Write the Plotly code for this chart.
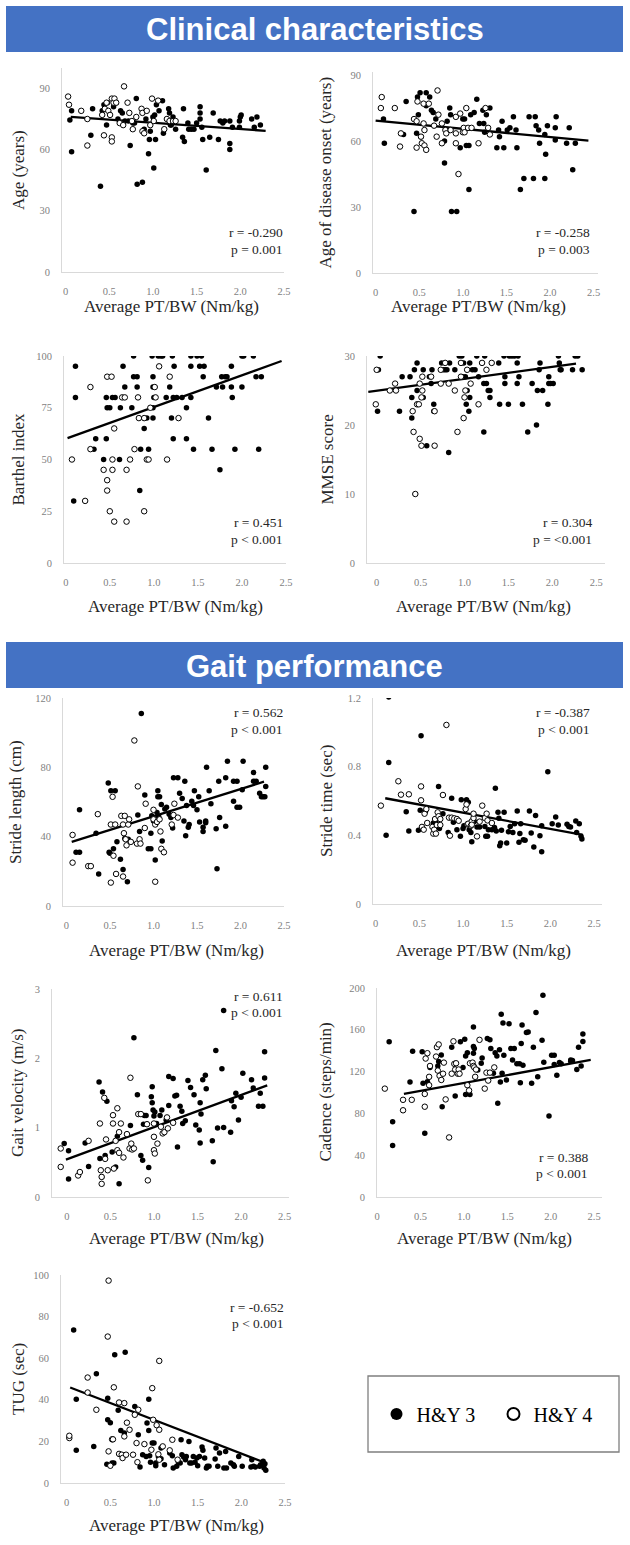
import plotly.graph_objects as go

# ---------------- DATA ----------------
X_TICKS = [0, 0.5, 1.0, 1.5, 2.0, 2.5]
X_TICK_TEXT = ["0", "0.5", "1.0", "1.5", "2.0", "2.5"]
X_TITLE = "Average PT/BW (Nm/kg)"
LEGEND_NAMES = ["H&Y 3", "H&Y 4"]

AGE_HY3 = [(0.05,74.5),(0.07,79),(0.07,59),(0.29,67),(0.31,80),(0.40,42),(0.42,79),(0.44,82),(0.47,72),(0.48,83),
           (0.55,81),(0.58,83),(0.60,75),(0.63,79),(0.65,78),(0.68,74),(0.72,74),(0.74,62),(0.77,73),(0.79,73),
           (0.81,85),(0.82,43),(0.88,44),(0.90,70),(0.92,75),(0.95,58),(0.96,65),(0.97,69),(1.00,76),(1.01,51),
           (1.02,77),(1.03,65),(1.04,82),(1.07,79),(1.11,84),(1.12,68),(1.18,80),(1.19,78),(1.20,72),(1.21,72),
           (1.23,76),(1.26,70),(1.35,80),(1.34,66),(1.36,64),(1.40,73),(1.41,70),(1.44,70),(1.47,70),(1.50,73),
           (1.54,81),(1.54,78),(1.54,75),(1.56,71),(1.57,65),(1.61,50),(1.65,66),(1.69,78),(1.75,65),(1.77,74),
           (1.80,73),(1.82,74),(1.88,74),(1.88,63),(1.88,60),(1.91,71),(1.99,71),(2.00,76),(2.01,77),(1.99,74),
           (2.13,75),(2.16,71),(2.19,76),(2.23,72)]
AGE_HY4 = [(0.03,86),(0.04,82),(0.18,79),(0.25,75),(0.25,62),(0.42,77),(0.44,67),(0.45,80),(0.47,83),(0.49,79),
           (0.51,77),(0.53,66),(0.53,64),(0.53,85),(0.55,83),(0.56,85),(0.58,83),(0.62,73),(0.66,72),(0.67,91),
           (0.71,83),(0.73,78),(0.76,74),(0.77,70),(0.81,76),(0.87,80),(0.88,78),(0.88,69),(0.90,68),(0.93,79),
           (0.97,72),(0.99,85),(1.01,74),(1.06,84),(1.13,70),(1.16,75),(1.19,74),(1.23,74),(1.26,74)]
AGE_TREND = [(0.06,76.0),(2.29,69.2)]

ONSET_HY3 = [(0.09,70),(0.10,59),(0.32,63),(0.35,78),(0.44,28),(0.47,63.5),(0.48,80),(0.49,72),(0.51,82),(0.52,62),
             (0.58,82),(0.58,76),(0.62,80),(0.64,74),(0.66,73),(0.69,70),(0.79,60),(0.79,50),(0.82,69),(0.85,75),
             (0.86,72),(0.87,28),(0.93,28),(0.97,57),(1.00,70),(1.02,70),(1.04,58),(1.07,38),(1.07,58),(1.09,72),
             (1.13,73),(1.16,79),(1.19,68),(1.23,74),(1.24,68),(1.25,64),(1.27,72),(1.31,75),(1.39,57),(1.41,65),
             (1.42,62),(1.45,69),(1.47,57),(1.51,65),(1.54,66),(1.58,71),(1.61,65),(1.62,57),(1.66,38),(1.70,43),
             (1.76,71),(1.81,43),(1.83,71),(1.84,67),(1.87,65),(1.88,59),(1.94,63),(1.94,43),(1.95,54),(1.97,67),
             (2.06,66),(2.07,71),(2.06,60.5),(2.19,59),(2.22,66),(2.26,47),(2.29,59)]
ONSET_HY4 = [(0.07,80),(0.06,75),(0.22,75),(0.29,63.5),(0.28,57.5),(0.44,70),(0.47,69),(0.48,78),(0.52,62),(0.47,57),
             (0.53,59),(0.55,77),(0.55,68),(0.56,65),(0.56,58),(0.58,56),(0.61,77),(0.67,67),(0.70,62),(0.71,83),
             (0.72,72),(0.76,68),(0.76,59),(0.80,65),(0.81,63.5),(0.86,65),(0.92,71),(0.92,63.5),(0.92,59),(0.95,45),
             (0.97,72.5),(1.00,64),(1.01,66),(1.02,64),(1.04,75),(1.06,66),(1.10,66),(1.18,59),(1.26,75),(1.29,66),
             (1.31,63)]
ONSET_TREND = [(0.0,69.3),(2.44,60.2)]

BARTHEL_HY3 = [(0.09,30),(0.11,95),(0.11,80),(0.32,55),(0.34,60),(0.43,50),(0.46,60),(0.46,80),(0.47,75),(0.50,75),
               (0.53,80),(0.56,80),(0.61,50),(0.62,75),(0.65,95),(0.67,85),(0.75,75),(0.77,100),(0.77,90),(0.81,85),
               (0.81,90),(0.85,55),(0.84,35),(0.89,65),(0.92,70),(0.94,55),(0.98,100),(0.99,90),(0.99,85),(0.99,70),
               (0.99,75),(1.00,80),(1.05,100),(1.08,100),(1.10,100),(1.14,80),(1.18,85),(1.20,70),(1.21,100),(1.22,60),
               (1.23,95),(1.22,80),(1.26,80),(1.32,80),(1.37,75),(1.37,60),(1.42,100),(1.42,95),(1.42,80),(1.45,55),
               (1.49,100),(1.52,95),(1.54,100),(1.56,90),(1.57,95),(1.62,70),(1.66,55),(1.71,85),(1.75,45),(1.77,90),
               (1.78,85),(1.81,90),(1.83,90),(1.88,95),(1.88,85),(1.89,80),(1.92,55),(2.00,100),(2.02,100),(2.00,85),
               (2.13,100),(2.16,90),(2.22,90),(2.19,55)]
BARTHEL_HY4 = [(0.07,50),(0.22,30),(0.28,85),(0.28,55),(0.47,90),(0.52,90),(0.43,45),(0.47,40),(0.47,35),(0.50,25),
               (0.53,50),(0.53,45),(0.55,65),(0.55,20),(0.64,80),(0.67,80),(0.69,45),(0.69,20),(0.73,50),(0.78,55),
               (0.82,80),(0.83,70),(0.92,50),(0.94,50),(0.89,70),(0.89,25),(0.96,75),(1.01,85),(1.02,80),(1.06,95),
               (1.15,50),(1.18,90),(1.28,70)]
BARTHEL_TREND = [(0.02,60.3),(2.45,97.6)]

MMSE_HY3 = [(0.01,22),(0.02,28),(0.04,30),(0.26,22),(0.29,27),(0.38,27),(0.40,24),(0.40,21),(0.43,28),(0.46,29),
            (0.46,25),(0.53,28),(0.53,24),(0.57,17),(0.60,27),(0.62,26),(0.63,28),(0.65,23),(0.65,22),(0.74,29),
            (0.76,28),(0.78,28),(0.80,28),(0.82,16),(0.83,29),(0.89,28),(0.94,30),(0.97,30),(0.98,27),(0.99,29),
            (1.01,27),(1.02,23),(1.03,25),(1.05,22),(1.06,24),(1.06,29),(1.09,28),(1.12,28),(1.14,30),(1.16,27),
            (1.22,26),(1.22,19),(1.23,30),(1.25,26),(1.27,25),(1.29,25),(1.29,24),(1.39,29),(1.40,23),(1.45,30),
            (1.46,26),(1.46,27),(1.50,23),(1.51,30),(1.54,30),(1.57,30),(1.60,29),(1.61,30),(1.60,26),(1.62,27),
            (1.66,23),(1.72,19),(1.77,26),(1.82,20),(1.83,25),(1.85,28),(1.86,29),(1.89,25),(1.95,23),(1.96,27),
            (1.96,26),(1.98,26),(2.01,26),(2.07,30),(2.08,29),(2.09,28),(2.10,28),(2.23,28),(2.26,30),(2.29,30),
            (2.34,28)]
MMSE_HY4 = [(-0.01,23),(0.0,28),(0.15,25),(0.21,26),(0.22,25),(0.41,22),(0.42,19),(0.44,10),(0.46,23),(0.48,23),
            (0.49,18),(0.51,24),(0.51,17),(0.52,25),(0.52,27),(0.49,26),(0.62,27),(0.66,22),(0.66,17),(0.73,28),
            (0.73,26),(0.78,29),(0.82,26),(0.89,25),(0.92,19),(0.96,29),(0.96,27),(0.99,21),(1.00,24),(1.01,25),
            (1.03,28),(1.07,26),(1.16,23),(1.20,29),(1.25,28),(1.31,29)]
MMSE_TREND = [(-0.095,24.8),(2.27,28.9)]

SLEN_HY3 = [(0.11,31),(0.15,31),(0.15,55.5),(0.34,42),(0.37,18.5),(0.48,71),(0.49,31),(0.50,30.5),(0.51,66.5),(0.54,33),
            (0.56,66.5),(0.58,37),(0.62,27),(0.65,21),(0.67,39),(0.70,14),(0.71,38.5),(0.82,52.5),(0.84,43),(0.86,111),
            (0.90,64),(0.94,33),(0.97,33),(0.97,42),(0.98,52),(1.00,49),(1.02,26.5),(1.04,54),(1.05,66.5),(1.05,63),
            (1.06,51.5),(1.07,63),(1.09,58.5),(1.10,37.5),(1.13,56),(1.15,57),(1.18,53),(1.20,51),(1.22,45),(1.23,74),
            (1.28,74),(1.30,65),(1.33,62),(1.35,49),(1.36,72),(1.37,40.5),(1.38,58),(1.40,45.5),(1.41,47),(1.44,60.5),
            (1.46,58),(1.47,66.5),(1.50,55.5),(1.52,63),(1.53,48.5),(1.57,45.5),(1.57,43),(1.60,49),(1.60,48),(1.61,80),
            (1.64,66.5),(1.66,59),(1.72,44.5),(1.73,21.5),(1.75,72),(1.76,51),(1.83,74),(1.83,46),(1.85,83.5),(1.92,72),
            (1.92,60.5),(1.96,72),(1.96,57),(1.99,57),(2.02,67),(2.03,83.5),(2.15,77),(2.15,72),(2.18,72),(2.22,65),
            (2.24,63),(2.26,63),(2.29,80),(2.29,69),(2.28,63)]
SLEN_HY4 = [(0.07,41),(0.07,25),(0.25,23),(0.28,23),(0.36,53),(0.51,47),(0.51,13.5),(0.53,63),(0.54,29),(0.56,47),
            (0.57,18.5),(0.63,52),(0.65,47),(0.65,17),(0.66,42),(0.67,52),(0.68,38.5),(0.69,35),(0.71,47),(0.72,50),
            (0.74,37),(0.78,95.5),(0.81,36),(0.82,69),(0.84,38.5),(0.85,36),(0.90,45),(0.91,59),(1.00,55.5),(1.00,50),
            (1.02,14),(1.02,47),(1.04,48.5),(1.07,50),(1.08,43),(1.09,33),(1.12,31),(1.21,47),(1.23,52.5),(1.24,59),
            (1.28,51)]
SLEN_TREND = [(0.06,37.0),(2.27,71.7)]

STIME_HY3 = [(0.12,0.40),(0.15,1.206),(0.15,0.825),(0.35,0.538),(0.38,0.425),(0.49,0.429),(0.52,0.98),(0.51,0.546),(0.57,0.538),(0.66,0.472),
             (0.69,0.476),(0.72,0.685),(0.73,0.44),(0.77,0.526),(0.83,0.417),(0.87,0.616),(0.89,0.476),(0.93,0.433),(0.97,0.394),(0.98,0.608),
             (1.00,0.44),(1.01,0.456),(1.04,0.608),(1.06,0.592),(1.07,0.433),(1.09,0.417),(1.10,0.363),(1.13,0.48),(1.16,0.449),(1.19,0.449),
             (1.25,0.452),(1.26,0.394),(1.28,0.394),(1.29,0.433),(1.33,0.433),(1.36,0.445),(1.37,0.674),(1.38,0.425),(1.40,0.534),(1.41,0.499),
             (1.42,0.34),(1.43,0.355),(1.44,0.429),(1.47,0.534),(1.50,0.355),(1.52,0.421),(1.54,0.452),(1.57,0.417),(1.59,0.468),(1.62,0.542),
             (1.64,0.359),(1.65,0.41),(1.66,0.468),(1.69,0.375),(1.71,0.371),(1.76,0.542),(1.78,0.413),(1.81,0.332),(1.83,0.515),(1.88,0.398),
             (1.90,0.456),(1.90,0.305),(1.97,0.771),(2.02,0.468),(2.06,0.507),(2.09,0.46),(2.19,0.464),(2.21,0.452),(2.23,0.449),(2.29,0.483),
             (2.30,0.417),(2.33,0.468),(2.35,0.394),(2.36,0.379)]
STIME_HY4 = [(0.06,0.573),(0.26,0.715),(0.29,0.637),(0.38,0.639),(0.52,0.604),(0.52,0.685),(0.53,0.449),(0.55,0.433),(0.56,0.526),(0.58,0.553),
             (0.59,0.472),(0.65,0.449),(0.66,0.41),(0.67,0.433),(0.68,0.495),(0.69,0.41),(0.70,0.46),(0.71,0.534),(0.72,0.511),(0.74,0.495),
             (0.74,0.46),(0.77,0.635),(0.81,1.043),(0.84,0.503),(0.85,0.398),(0.87,0.503),(0.90,0.499),(0.93,0.495),(0.95,0.485),(1.03,0.553),
             (1.04,0.58),(1.05,0.464),(1.06,0.468),(1.09,0.456),(1.10,0.482),(1.10,0.462),(1.12,0.501),(1.12,0.526),(1.16,0.394),(1.19,0.48),
             (1.22,0.573),(1.25,0.501),(1.27,0.526),(1.28,0.487),(1.33,0.472)]
STIME_TREND = [(0.11,0.616),(2.37,0.402)]

GVEL_HY3 = [(-0.03,0.77),(0.02,0.666),(0.02,0.26),(0.21,0.78),(0.25,0.44),(0.37,1.66),(0.38,0.555),(0.40,0.29),(0.41,1.515),(0.44,0.598),
            (0.46,1.38),(0.52,0.65),(0.56,0.434),(0.58,0.878),(0.60,0.19),(0.73,1.03),(0.77,2.296),(0.81,1.476),(0.85,0.598),(0.87,0.53),
            (0.88,1.05),(0.89,1.177),(0.91,1.177),(0.94,0.425),(0.97,1.447),(0.98,1.59),(0.98,1.36),(0.99,1.254),(1.00,1.167),(1.01,1.225),
            (1.03,1.06),(1.07,1.177),(1.09,1.254),(1.14,1.11),(1.17,1.737),(1.17,1.32),(1.22,1.71),(1.24,1.457),(1.26,1.467),(1.27,0.72),
            (1.30,1.31),(1.32,1.235),(1.33,1.06),(1.36,1.10),(1.39,1.68),(1.42,1.58),(1.46,1.476),(1.48,1.04),(1.52,0.965),(1.53,0.78),
            (1.53,1.36),(1.54,1.196),(1.56,1.69),(1.59,1.756),(1.60,1.563),(1.67,0.81),(1.68,0.51),(1.71,2.113),(1.73,0.994),(1.78,1.85),
            (1.80,2.69),(1.80,1.003),(1.88,0.935),(1.89,1.39),(1.92,1.30),(1.94,1.495),(1.97,1.11),(2.00,1.437),(2.02,1.785),(2.12,1.69),
            (2.14,1.573),(2.20,1.31),(2.22,1.495),(2.25,1.31),(2.27,1.717),(2.27,2.094)]
GVEL_HY4 = [(-0.07,0.434),(-0.07,0.70),(0.13,0.31),(0.15,0.36),(0.25,0.81),(0.38,1.06),(0.39,0.386),(0.40,0.29),(0.40,0.19),(0.43,1.43),
            (0.44,0.55),(0.45,0.83),(0.47,0.386),(0.53,1.18),(0.53,1.06),(0.54,0.41),(0.56,0.81),(0.58,1.28),(0.58,0.675),(0.60,0.935),
            (0.60,0.637),(0.62,1.06),(0.65,0.57),(0.69,0.907),(0.72,0.70),(0.73,1.72),(0.74,0.77),(0.75,0.685),(0.77,0.70),(0.82,1.196),
            (0.85,1.196),(0.92,1.05),(0.93,0.24),(1.00,1.06),(1.00,0.868),(1.00,0.675),(1.01,0.627),(1.04,0.77),(1.08,1.013),(1.10,0.917),
            (1.12,0.935),(1.15,1.148),(1.16,0.99),(1.22,1.07)]
GVEL_TREND = [(-0.01,0.54),(2.30,1.61)]

CAD_HY3 = [(0.14,148.5),(0.18,72),(0.18,49.3),(0.38,110),(0.41,139.5),(0.52,139),(0.53,108.8),(0.55,61),(0.58,110.4),(0.61,124),
           (0.70,125.4),(0.71,129.6),(0.74,136),(0.75,86.4),(0.86,143.4),(0.90,96.6),(0.96,148.5),(0.99,124),(1.01,151),(1.02,98),
           (1.02,135),(1.04,138),(1.07,98),(1.11,144),(1.11,137.6),(1.11,162.6),(1.12,142),(1.16,121.6),(1.20,128),(1.21,133),
           (1.27,151.7),(1.30,150.4),(1.31,142),(1.34,118.4),(1.36,138),(1.38,135),(1.39,89.6),(1.41,141),(1.42,110),(1.43,175),
           (1.44,118.4),(1.45,166.4),(1.46,135.7),(1.49,112),(1.52,165.8),(1.54,142),(1.56,131),(1.58,142),(1.61,127.4),(1.64,127.4),
           (1.65,109.4),(1.66,147),(1.67,164.5),(1.68,126),(1.72,157.4),(1.74,158),(1.78,108.8),(1.80,143.4),(1.83,176.6),(1.85,115),
           (1.90,150),(1.91,193),(1.92,129),(1.98,77.4),(2.01,135.7),(2.04,135.7),(2.04,126.7),(2.07,116.5),(2.10,128.6),(2.12,127.4),
           (2.23,131),(2.23,130),(2.25,130.6),(2.30,122),(2.32,143.4),(2.35,125.4),(2.37,156),(2.37,148.8)]
CAD_HY4 = [(0.09,103.7),(0.30,83),(0.30,93),(0.40,93),(0.55,98.6),(0.55,86.4),(0.56,132.5),(0.58,137.6),(0.60,115),(0.60,107),
           (0.61,125.4),(0.68,134.4),(0.69,143.4),(0.70,121),(0.71,146),(0.72,116),(0.74,112),(0.76,118),(0.77,128.6),(0.79,93.4),
           (0.83,57),(0.86,118),(0.88,149),(0.89,127.4),(0.90,122),(0.91,128),(0.93,118),(0.94,122),(0.95,118),(1.04,107),
           (1.06,102),(1.07,128),(1.10,128.6),(1.11,125.4),(1.12,124),(1.13,115),(1.14,122),(1.18,150.4),(1.24,103.7),(1.26,119),
           (1.28,111.4),(1.30,119),(1.35,124)]
CAD_TREND = [(0.31,98.6),(2.46,131.2)]

TUG_HY3 = [(0.08,73.6),(0.11,40.3),(0.11,15.7),(0.31,17.6),(0.34,52.5),(0.46,9),(0.47,30.4),(0.47,40.8),(0.50,29),(0.52,9.6),
           (0.54,9.6),(0.55,61.6),(0.59,35),(0.62,25.3),(0.66,24),(0.67,62.9),(0.78,36.8),(0.82,23.2),(0.84,7.7),(0.87,13.6),
           (0.91,12.8),(0.92,28.8),(0.94,40.3),(0.94,25.3),(0.95,13.1),(0.96,10),(0.98,19.2),(1.00,19.2),(1.02,9.6),(1.02,8.3),
           (1.05,12.8),(1.08,16.8),(1.08,11.7),(1.12,8.8),(1.18,14.4),(1.21,13.1),(1.22,7.2),(1.26,8),(1.28,10),(1.30,9.6),
           (1.31,20.8),(1.32,13.6),(1.34,12.5),(1.36,11.2),(1.37,12.8),(1.40,20),(1.41,9.6),(1.43,9.6),(1.45,12.8),(1.47,10),
           (1.49,12),(1.50,8.3),(1.52,12.8),(1.55,17.3),(1.56,15.7),(1.58,12),(1.60,7.2),(1.61,8),(1.63,8),(1.70,11.5),
           (1.71,16.8),(1.73,8),(1.75,14.4),(1.80,7.2),(1.82,15.2),(1.83,7.2),(1.88,9.6),(1.91,8.8),(1.92,8),(1.97,12.8),
           (2.01,8),(2.11,7.7),(2.12,11.2),(2.14,8),(2.16,7.7),(2.21,8),(2.22,8.8),(2.25,10.4),(2.26,7.2),(2.27,9.3),
           (2.28,6.1)]
TUG_HY4 = [(0.03,21.6),(0.03,22.7),(0.24,50.7),(0.24,43.5),(0.34,35.2),(0.47,70.4),(0.48,97.3),(0.48,15.2),(0.50,8.3),(0.52,21),
           (0.53,21),(0.54,46),(0.60,38.7),(0.60,14),(0.63,13.6),(0.64,12),(0.66,22.4),(0.66,38.4),(0.68,13.6),(0.69,29),
           (0.72,25.6),(0.76,13.6),(0.78,32.8),(0.80,19.2),(0.81,10),(0.82,35.2),(0.89,18.7),(0.97,16),(0.98,45.6),(0.99,30.4),
           (1.03,27.8),(1.05,13.8),(1.06,58.7),(1.06,25.6),(1.06,11.2),(1.10,17.6),(1.18,15.7),(1.21,20.8),(1.27,11.2)]
TUG_TREND = [(0.04,45.9),(2.28,9.6)]

# ---------------- LAYOUT (pixel geometry) ----------------
W, H = 630, 1545
SERIF = "Liberation Serif"

def px(v):
    return v / W

def py(v):
    return 1 - v / H

panels = [
    dict(hy3=AGE_HY3, hy4=AGE_HY4, trend=AGE_TREND, xd=(62, 284), yd=(68, 272), xr=(-0.04, 2.5), yr=(0, 100),
         yt=[0, 30, 60, 90], ytt=None, title="Age (years)", tx=18, stats=("r = -0.290", "p = 0.001"),
         sx=285, sy=(233, 250), xtx=171, xty=307),
    dict(hy3=ONSET_HY3, hy4=ONSET_HY4, trend=ONSET_TREND, xd=(373, 598), yd=(72, 273), xr=(-0.03, 2.55), yr=(0, 91.4),
         yt=[0, 30, 60, 90], ytt=None, title="Age of disease onset (years)", tx=325, stats=("r = -0.258", "p = 0.003"),
         sx=592, sy=(233, 250), xtx=478, xty=307),
    dict(hy3=BARTHEL_HY3, hy4=BARTHEL_HY4, trend=BARTHEL_TREND, xd=(64, 286), yd=(356, 563), xr=(-0.02, 2.5), yr=(0, 100),
         yt=[0, 25, 50, 75, 100], ytt=None, title="Barthel index", tx=18, stats=("r = 0.451", "p < 0.001"),
         sx=285, sy=(522, 539), xtx=175, xty=606),
    dict(hy3=MMSE_HY3, hy4=MMSE_HY4, trend=MMSE_TREND, xd=(367, 605), yd=(356, 563), xr=(-0.11, 2.6), yr=(0, 30),
         yt=[0, 10, 20, 30], ytt=None, title="MMSE score", tx=327, stats=("r = 0.304", "p = <0.001"),
         sx=594, sy=(522, 539), xtx=483, xty=606),
    dict(hy3=SLEN_HY3, hy4=SLEN_HY4, trend=SLEN_TREND, xd=(63, 284), yd=(698, 906), xr=(-0.04, 2.5), yr=(0, 120),
         yt=[0, 40, 80, 120], ytt=None, title="Stride length (cm)", tx=15, stats=("r = 0.562", "p < 0.001"),
         sx=285, sy=(713, 729), xtx=176, xty=950),
    dict(hy3=STIME_HY3, hy4=STIME_HY4, trend=STIME_TREND, xd=(373, 602), yd=(698, 904), xr=(-0.03, 2.59), yr=(0, 1.2),
         yt=[0, 0.4, 0.8, 1.2], ytt=["0", "0.4", "0.8", "1.2"], title="Stride time (sec)", tx=327,
         stats=("r = -0.387", "p < 0.001"), sx=592, sy=(713, 729), xtx=483, xty=950),
    dict(hy3=GVEL_HY3, hy4=GVEL_HY4, trend=GVEL_TREND, xd=(52, 289), yd=(989, 1197), xr=(-0.17, 2.55), yr=(0, 3),
         yt=[0, 1, 2, 3], ytt=None, title="Gait velocity (m/s)", tx=17, stats=("r = 0.611", "p < 0.001"),
         sx=285, sy=(996, 1012), xtx=176, xty=1238),
    dict(hy3=CAD_HY3, hy4=CAD_HY4, trend=CAD_TREND, xd=(377, 602), yd=(988, 1197), xr=(0, 2.59), yr=(0, 200),
         yt=[0, 40, 80, 120, 160, 200], ytt=None, title="Cadence (steps/min)", tx=325, stats=("r = 0.388", "p < 0.001"),
         sx=590, sy=(1157, 1173), xtx=484, xty=1238),
    dict(hy3=TUG_HY3, hy4=TUG_HY4, trend=TUG_TREND, xd=(61, 285), yd=(1275, 1483), xr=(-0.065, 2.5), yr=(0, 100),
         yt=[0, 20, 40, 60, 80, 100], ytt=None, title="TUG (sec)", tx=18, stats=("r = -0.652", "p < 0.001"),
         sx=286, sy=(1307, 1323), xtx=176, xty=1525),
]

fig = go.Figure()
annotations = []
shapes = []
layout_axes = {}

for i, p in enumerate(panels, start=1):
    xa = "x" if i == 1 else f"x{i}"
    ya = "y" if i == 1 else f"y{i}"
    xkey = "xaxis" if i == 1 else f"xaxis{i}"
    ykey = "yaxis" if i == 1 else f"yaxis{i}"

    tx_, ty_ = zip(*p["trend"])
    fig.add_trace(go.Scatter(x=list(tx_), y=list(ty_), mode="lines", xaxis=xa, yaxis=ya,
                             line=dict(color="black", width=2.3), showlegend=False, hoverinfo="skip"))
    x3, y3 = zip(*p["hy3"])
    fig.add_trace(go.Scatter(x=list(x3), y=list(y3), mode="markers", xaxis=xa, yaxis=ya,
                             name=LEGEND_NAMES[0], legendgroup="hy3", showlegend=(i == 1),
                             marker=dict(symbol="circle", size=5.5, color="black", line=dict(width=0))))
    x4, y4 = zip(*p["hy4"])
    fig.add_trace(go.Scatter(x=list(x4), y=list(y4), mode="markers", xaxis=xa, yaxis=ya,
                             name=LEGEND_NAMES[1], legendgroup="hy4", showlegend=(i == 1),
                             marker=dict(symbol="circle", size=5.5, color="white", line=dict(width=1, color="black"))))

    layout_axes[xkey] = dict(domain=[px(p["xd"][0]), px(p["xd"][1])], range=list(p["xr"]), anchor=ya,
                             tickvals=X_TICKS, ticktext=X_TICK_TEXT, showgrid=False, zeroline=False,
                             showline=True, linecolor="#d9d9d9", linewidth=1, ticks="",
                             ticklabelstandoff=9, fixedrange=True, automargin=False,
                             tickfont=dict(family=SERIF, size=10.5, color="#7f7f7f"))
    layout_axes[ykey] = dict(domain=[py(p["yd"][1]), py(p["yd"][0])], range=list(p["yr"]), anchor=xa,
                             tickvals=p["yt"], ticktext=p["ytt"] if p["ytt"] else [str(v) for v in p["yt"]],
                             showgrid=False, zeroline=False, showline=True, linecolor="#d9d9d9", linewidth=1,
                             ticks="", ticklabelstandoff=9, fixedrange=True, automargin=False,
                             tickfont=dict(family=SERIF, size=10.5, color="#7f7f7f"))

    annotations.append(dict(text=p["title"], x=px(p["tx"]), y=py((p["yd"][0] + p["yd"][1]) / 2),
                            xref="paper", yref="paper", textangle=-90, showarrow=False,
                            xanchor="center", yanchor="middle",
                            font=dict(family=SERIF, size=17, color="#262626")))
    annotations.append(dict(text=X_TITLE, x=px(p["xtx"]), y=py(p["xty"]), xref="paper", yref="paper",
                            showarrow=False, xanchor="center", yanchor="middle",
                            font=dict(family=SERIF, size=17, color="#262626")))
    for line, yy in zip(p["stats"], p["sy"]):
        annotations.append(dict(text=line, x=px(p["sx"]), y=py(yy), xref="paper", yref="paper",
                                showarrow=False, xanchor="right", yanchor="middle",
                                font=dict(family=SERIF, size=13.5, color="#262626")))

# section banners
BANNERS = [("Clinical characteristics", 6, 52), ("Gait performance", 642, 688)]
for text, top, bottom in BANNERS:
    shapes.append(dict(type="rect", xref="paper", yref="paper", x0=px(6), x1=px(623), y0=py(bottom), y1=py(top),
                       fillcolor="#4472C4", line=dict(width=0), layer="below"))
    annotations.append(dict(text=f"<b>{text}</b>", x=px(314.5), y=py((top + bottom) / 2 + 1), xref="paper",
                            yref="paper", showarrow=False, xanchor="center", yanchor="middle",
                            font=dict(family="Liberation Sans", size=31, color="white")))

# legend frame
LEG_BOX = (368, 1376, 619, 1452)
shapes.append(dict(type="rect", xref="paper", yref="paper", x0=px(LEG_BOX[0]), x1=px(LEG_BOX[2]),
                   y0=py(LEG_BOX[3]), y1=py(LEG_BOX[1]), line=dict(color="#7f7f7f", width=1.3),
                   fillcolor="rgba(0,0,0,0)"))

fig.update_layout(
    width=W, height=H, autosize=False,
    margin=dict(l=0, r=0, t=0, b=0, autoexpand=False),
    paper_bgcolor="white", plot_bgcolor="white",
    annotations=annotations, shapes=shapes,
    showlegend=True,
    legend=dict(x=px((LEG_BOX[0] + LEG_BOX[2]) / 2), y=py((LEG_BOX[1] + LEG_BOX[3]) / 2),
                xanchor="center", yanchor="middle", orientation="h",
                borderwidth=0, bgcolor="rgba(0,0,0,0)",
                font=dict(family=SERIF, size=20, color="black"), itemsizing="constant",
                entrywidth=72, entrywidthmode="pixels"),
    **layout_axes,
)

fig.write_html("out.html", config={"displayModeBar": False},
               post_script="document.body.style.margin='0';")
